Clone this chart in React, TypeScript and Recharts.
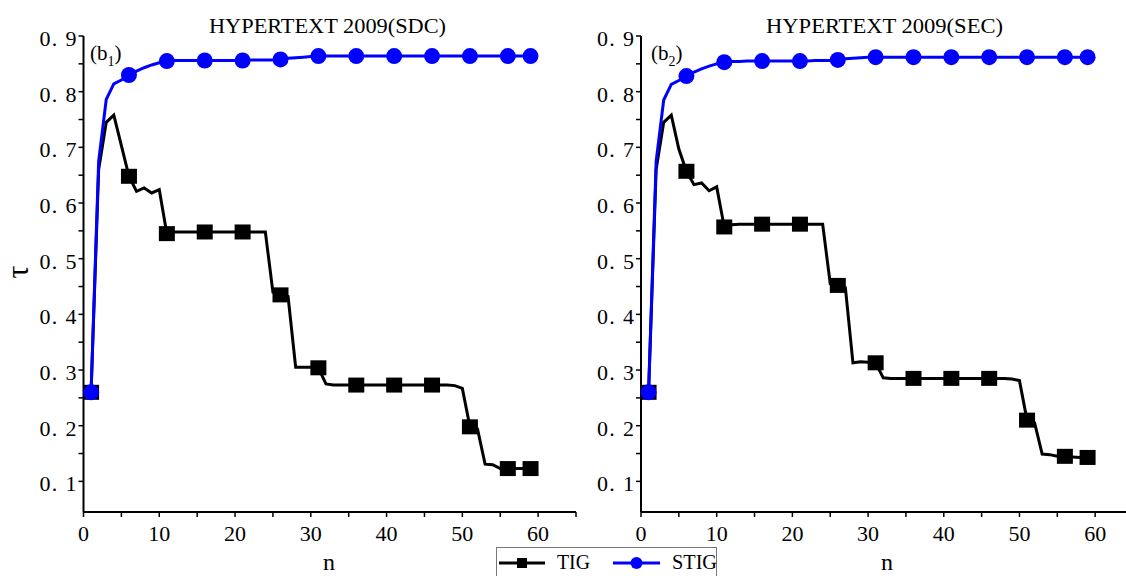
import React from "react";
import {LineChart, Line, XAxis, YAxis} from "recharts";

const FONT = "'Liberation Serif', 'DejaVu Serif', serif";

// n values (x axis)
const N = [
    1, 2, 3, 4, 5, 6, 7, 8, 9, 10,
    11, 12, 13, 14, 15, 16, 17, 18, 19, 20,
    21, 22, 23, 24, 25, 26, 27, 28, 29, 30,
    31, 32, 33, 34, 35, 36, 37, 38, 39, 40,
    41, 42, 43, 44, 45, 46, 47, 48, 49, 50,
    51, 52, 53, 54, 55, 56, 57, 58, 59,
];

// n where a marker is drawn
const MARKER_N = [1, 6, 11, 16, 21, 26, 31, 36, 41, 46, 51, 56, 59];

const TIG_SDC = [
    0.26, 0.66, 0.745, 0.758, 0.703, 0.648, 0.621, 0.627, 0.618, 0.624,
    0.545, 0.548, 0.548, 0.548, 0.548, 0.548, 0.548, 0.548, 0.548, 0.548,
    0.548, 0.548, 0.548, 0.548, 0.44, 0.435, 0.432, 0.305, 0.305, 0.305,
    0.304, 0.275, 0.273, 0.273, 0.273, 0.273, 0.273, 0.273, 0.273, 0.273,
    0.273, 0.273, 0.273, 0.273, 0.273, 0.273, 0.273, 0.273, 0.272, 0.267,
    0.198, 0.194, 0.131, 0.13, 0.123, 0.123, 0.123, 0.123, 0.123,
];

const STIG_SDC = [
    0.26, 0.675, 0.786, 0.814, 0.821, 0.83, 0.837, 0.843, 0.848, 0.852,
    0.855, 0.856, 0.856, 0.856, 0.856, 0.856, 0.856, 0.856, 0.856, 0.856,
    0.856, 0.857, 0.857, 0.857, 0.857, 0.858, 0.86, 0.861, 0.862, 0.863,
    0.864, 0.864, 0.864, 0.864, 0.864, 0.864, 0.864, 0.864, 0.864, 0.864,
    0.864, 0.864, 0.864, 0.864, 0.864, 0.864, 0.864, 0.864, 0.864, 0.864,
    0.864, 0.864, 0.864, 0.864, 0.864, 0.864, 0.864, 0.864, 0.864,
];

const TIG_SEC = [
    0.26, 0.66, 0.745, 0.758, 0.697, 0.657, 0.633, 0.636, 0.622, 0.629,
    0.557, 0.561, 0.562, 0.562, 0.562, 0.562, 0.562, 0.562, 0.562, 0.562,
    0.562, 0.562, 0.562, 0.562, 0.455, 0.452, 0.448, 0.313, 0.315, 0.314,
    0.313, 0.286, 0.285, 0.285, 0.285, 0.285, 0.285, 0.285, 0.285, 0.285,
    0.285, 0.285, 0.285, 0.285, 0.285, 0.285, 0.285, 0.285, 0.284, 0.281,
    0.21, 0.205, 0.149, 0.148, 0.145, 0.145, 0.144, 0.143, 0.143,
];

const STIG_SEC = [
    0.26, 0.675, 0.785, 0.813, 0.82, 0.828, 0.835, 0.841, 0.846, 0.85,
    0.853, 0.854, 0.854, 0.855, 0.855, 0.855, 0.855, 0.855, 0.855, 0.855,
    0.855, 0.855, 0.856, 0.856, 0.856, 0.857, 0.859, 0.86, 0.861, 0.862,
    0.862, 0.862, 0.862, 0.862, 0.862, 0.862, 0.862, 0.862, 0.862, 0.862,
    0.862, 0.862, 0.862, 0.862, 0.862, 0.862, 0.862, 0.862, 0.862, 0.862,
    0.862, 0.862, 0.862, 0.862, 0.862, 0.862, 0.862, 0.862, 0.862,
];

const X_TICKS = [0, 5, 10, 15, 20, 25, 30, 35, 40, 45, 50, 55, 60, 65];
const X_LABELS = [0, 10, 20, 30, 40, 50, 60];
const Y_TICKS = [0.1, 0.15, 0.2, 0.25, 0.3, 0.35, 0.4, 0.45, 0.5, 0.55, 0.6, 0.65, 0.7, 0.75, 0.8, 0.85, 0.9];
const Y_LABELS = [0.1, 0.2, 0.3, 0.4, 0.5, 0.6, 0.7, 0.8, 0.9];

const XTick = (props: any) => {
    const {x, y, payload} = props;
    if (!X_LABELS.includes(payload.value)) return <g/>;
    return (
        <text x={x} y={y} dy={22} textAnchor="middle" style={{fontFamily: FONT, fontSize: 22}} fill="#000">
            {payload.value}
        </text>
    );
};

const YTick = (props: any) => {
    const {x, y, payload} = props;
    const v = Math.round(payload.value * 100) / 100;
    if (!Y_LABELS.includes(v)) return <g/>;
    return (
        <text x={x} y={y} dy={10} textAnchor="end" style={{fontFamily: FONT, fontSize: 22}} fill="#000"
              textLength={37} lengthAdjust="spacing">
            {`0. ${Math.round(v * 10)}`}
        </text>
    );
};

const squareDot = (props: any) => {
    const {cx, cy, payload, index} = props;
    if (!MARKER_N.includes(payload.n)) return <g key={`s-${index}`}/>;
    return <rect key={`s-${index}`} x={cx - 8} y={cy - 7.5} width={16} height={15} fill="#000"/>;
};

const circleDot = (props: any) => {
    const {cx, cy, payload, index} = props;
    if (!MARKER_N.includes(payload.n)) return <g key={`c-${index}`}/>;
    return <circle key={`c-${index}`} cx={cx} cy={cy} r={8} fill="#0000ff"/>;
};

interface PanelProps {
    tig: number[];
    stig: number[];
    left: number;
    marginLeft: number;
    marginRight: number;
}

const axisLine = {stroke: "#000", strokeWidth: 2};

const Panel: React.FC<PanelProps> = ({tig, stig, left, marginLeft, marginRight}) => {
    const data = N.map((n, i) => ({n, tig: tig[i], stig: stig[i]}));
    return (
        <div style={{position: "absolute", left, top: 0}}>
            <LineChart width={600} height={576} data={data}
                       margin={{top: 36, right: marginRight, bottom: 34, left: marginLeft}}>
                <XAxis dataKey="n" type="number" domain={[0, 65]} ticks={X_TICKS} interval={0}
                       tick={<XTick/>} tickSize={5} height={30}
                       axisLine={axisLine} tickLine={{stroke: "#000", strokeWidth: 1.5}}/>
                <XAxis xAxisId="top" orientation="top" dataKey="n" type="number" domain={[0, 65]}
                       tick={false} tickLine={false} height={0} axisLine={axisLine}/>
                <YAxis type="number" domain={[0.045, 0.9]} ticks={Y_TICKS} interval={0}
                       tick={<YTick/>} tickSize={5} width={60}
                       axisLine={axisLine} tickLine={{stroke: "#000", strokeWidth: 1.5}}/>
                <YAxis yAxisId="right" orientation="right" type="number" domain={[0.045, 0.9]}
                       tick={false} tickLine={false} width={0} axisLine={axisLine}/>
                <Line dataKey="tig" type="linear" stroke="#000" strokeWidth={3}
                      dot={squareDot} activeDot={false} isAnimationActive={false}/>
                <Line dataKey="stig" type="linear" stroke="#0000ff" strokeWidth={3}
                      dot={circleDot} activeDot={false} isAnimationActive={false}/>
            </LineChart>
        </div>
    );
};

export default function App() {
    return (
        <div style={{
            position: "absolute", left: 0, top: 0, width: 1126, height: 576,
            overflow: "hidden", background: "#fff"
        }}>
            <Panel tig={TIG_SDC} stig={STIG_SDC} left={0} marginLeft={23.5} marginRight={24}/>
            <Panel tig={TIG_SEC} stig={STIG_SEC} left={560} marginLeft={21} marginRight={27}/>
            <svg width={1126} height={576} style={{position: "absolute", left: 0, top: 0, pointerEvents: "none"}}>
                <g style={{fontFamily: FONT}} fill="#000">
                    <text x={327.5} y={33} textAnchor="middle" fontSize={22} textLength={237}
                          lengthAdjust="spacingAndGlyphs">HYPERTEXT  2009(SDC)</text>
                    <text x={884.5} y={33} textAnchor="middle" fontSize={22} textLength={237}
                          lengthAdjust="spacingAndGlyphs">HYPERTEXT  2009(SEC)</text>
                    <text x={90} y={60} fontSize={21}>(b<tspan fontSize={14} dy={6}>1</tspan><tspan dy={-6}>)</tspan></text>
                    <text x={651} y={60} fontSize={21}>(b<tspan fontSize={14} dy={6}>2</tspan><tspan dy={-6}>)</tspan></text>
                    <text x={28} y={272} fontSize={32} textAnchor="middle" transform="rotate(-90 28 272)">τ</text>
                    <text x={329} y={570} fontSize={24} textAnchor="middle">n</text>
                    <text x={887} y={570} fontSize={24} textAnchor="middle">n</text>
                </g>
                <g>
                    <rect x={496.5} y={547.5} width={220} height={40} fill="#fff" stroke="#777" strokeWidth={1}/>
                    <line x1={499} y1={563} x2={545} y2={563} stroke="#000" strokeWidth={3}/>
                    <rect x={517} y={558} width={10} height={10} fill="#000"/>
                    <text x={557} y={569} style={{fontFamily: FONT}} fontSize={20} textLength={33}
                          lengthAdjust="spacingAndGlyphs">TIG</text>
                    <line x1={613} y1={563} x2={660} y2={563} stroke="#0000ff" strokeWidth={3}/>
                    <circle cx={636.5} cy={563} r={6} fill="#0000ff"/>
                    <text x={672} y={569} style={{fontFamily: FONT}} fontSize={20} textLength={45}
                          lengthAdjust="spacingAndGlyphs">STIG</text>
                </g>
            </svg>
        </div>
    );
}
